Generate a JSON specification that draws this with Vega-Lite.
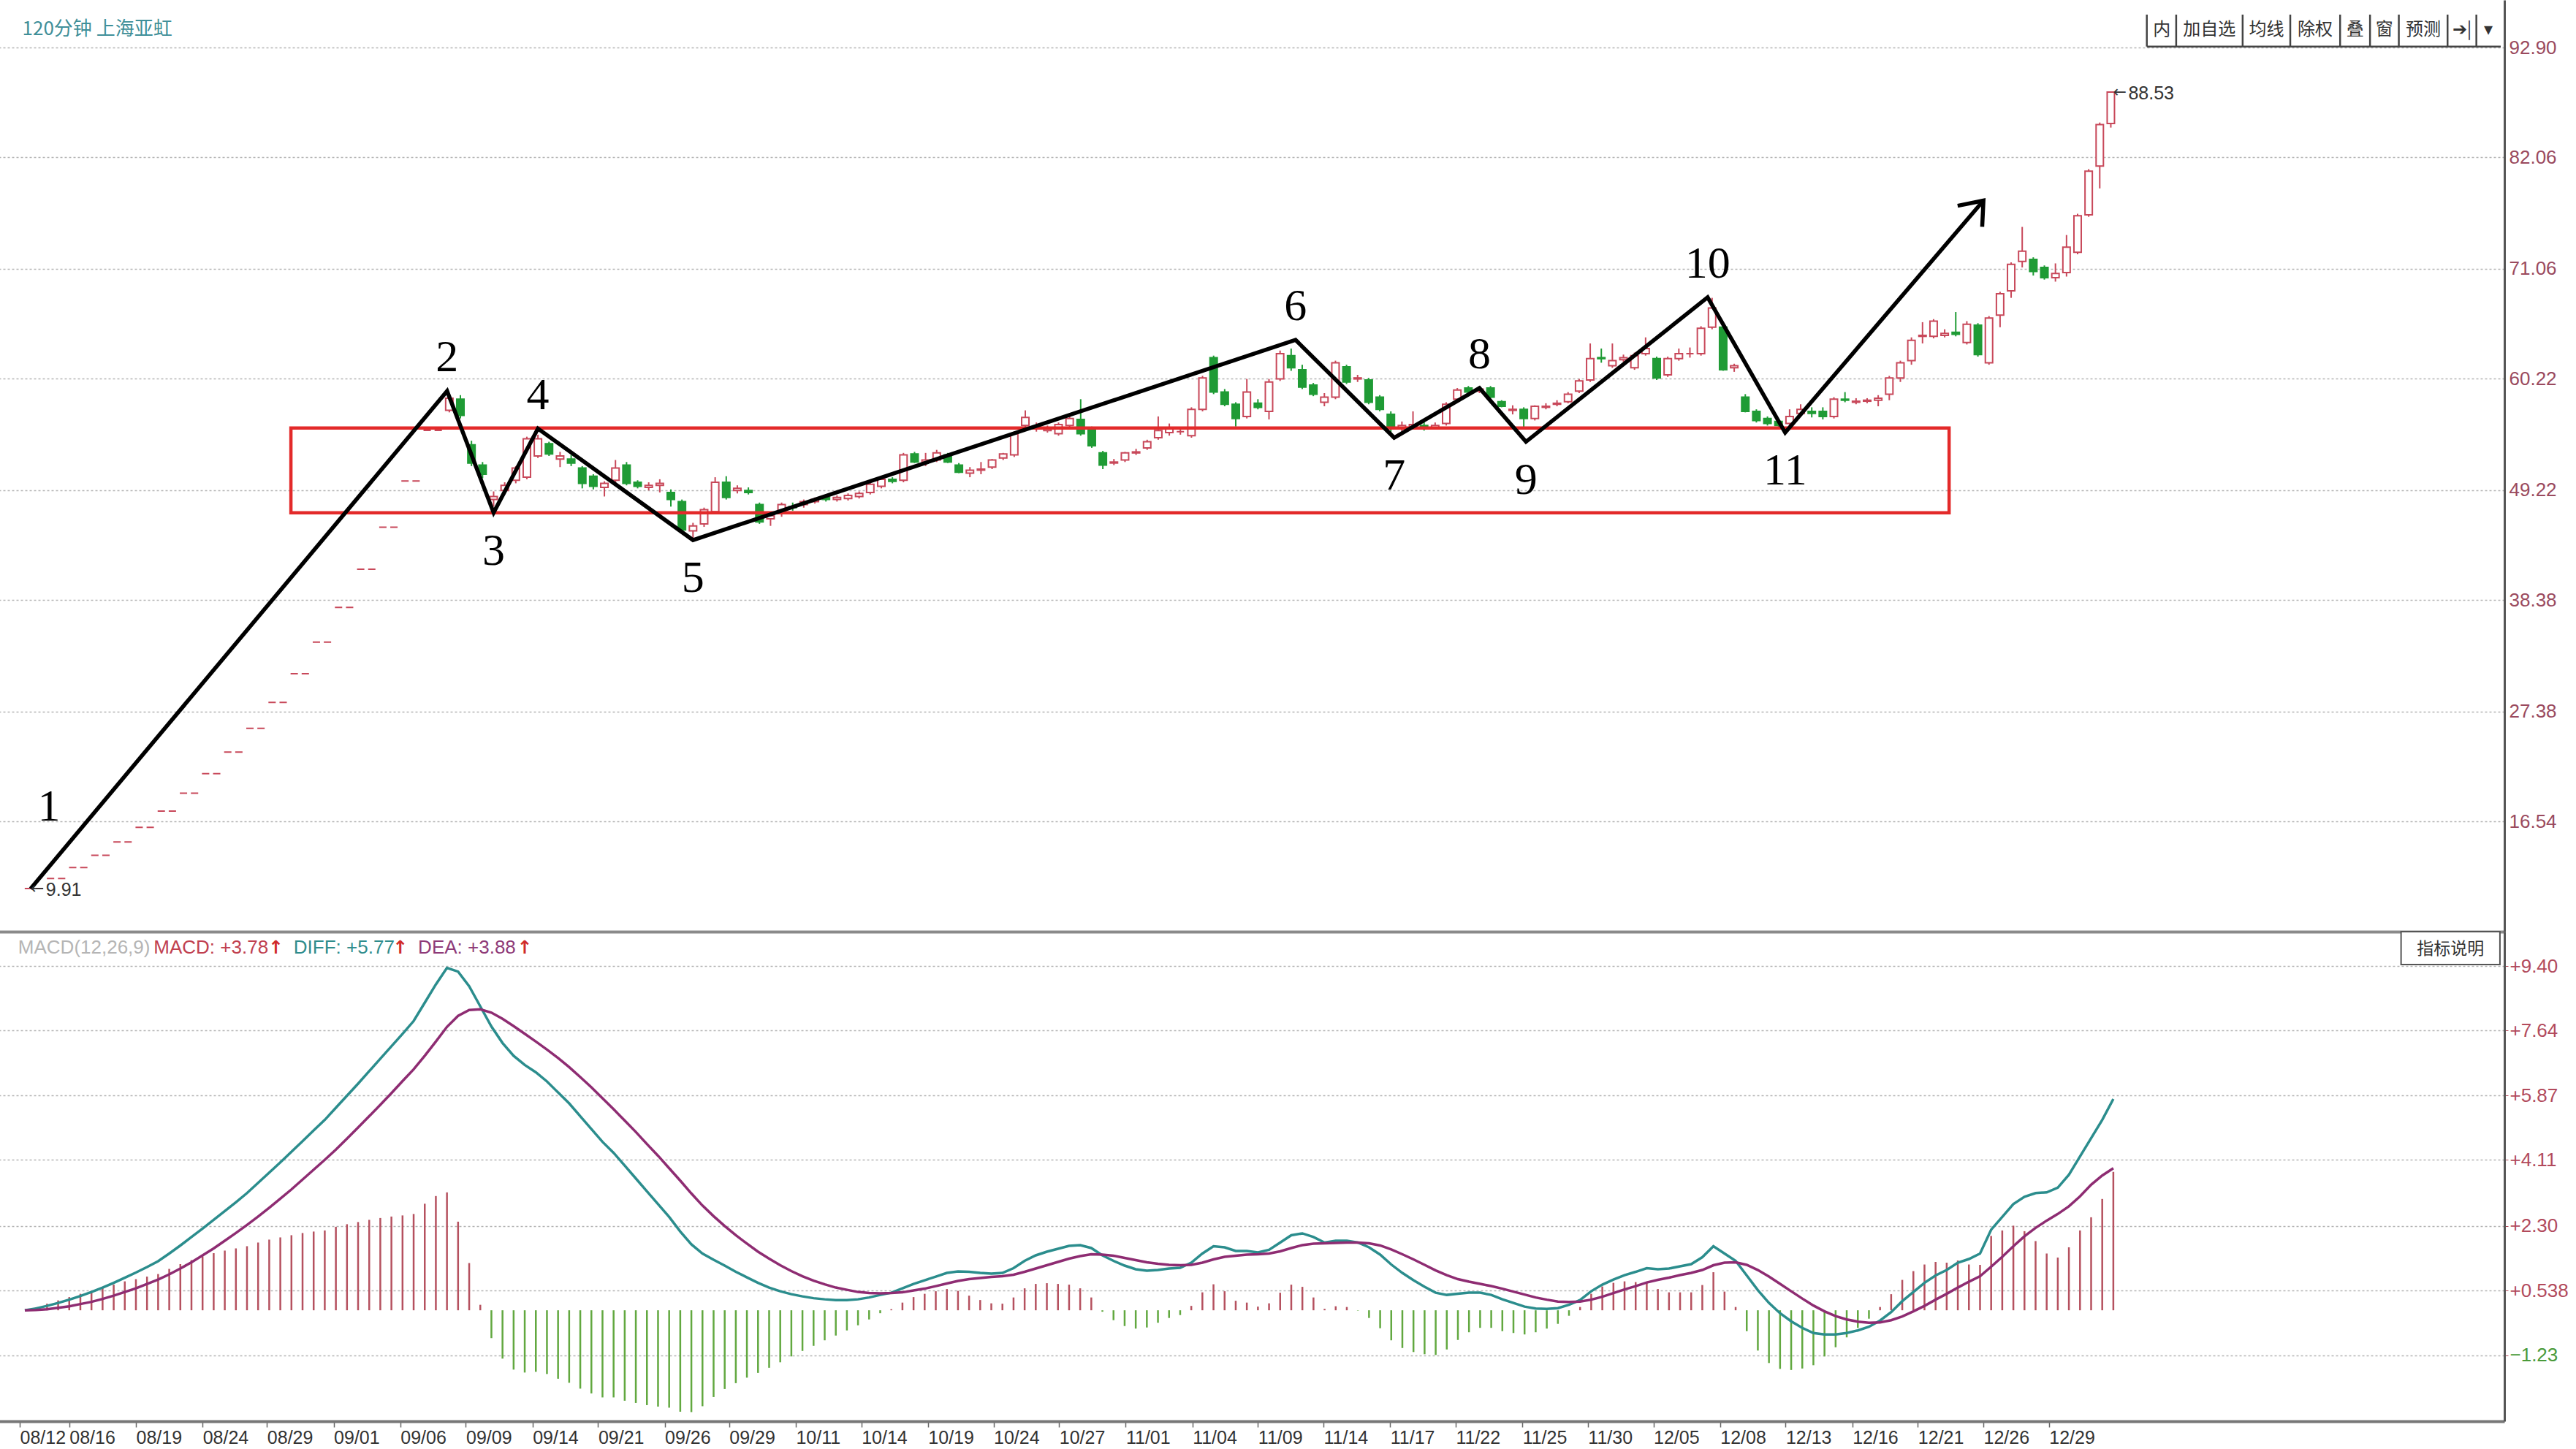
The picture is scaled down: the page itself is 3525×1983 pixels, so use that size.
{
"$schema": "https://vega.github.io/schema/vega-lite/v6.json",
"background": "white",
"padding": {"left": -14, "top": 0, "right": 0, "bottom": 0},
"autosize": {"type": "pad"},
"spacing": 0,
"bounds": "flush",
"config": {"view": {"stroke": null}},
"datasets": {
"k": [
{"i":0,"o":9.91,"h":9.91,"l":9.91,"c":9.91,"dif":0,"dea":0,"m":0},
{"i":1,"o":9.91,"h":9.91,"l":9.91,"c":9.91,"dif":0.05,"dea":0.01,"m":0.08},
{"i":2,"o":10.9,"h":10.9,"l":10.9,"c":10.9,"dif":0.12,"dea":0.03,"m":0.18},
{"i":3,"o":10.9,"h":10.9,"l":10.9,"c":10.9,"dif":0.2,"dea":0.07,"m":0.27},
{"i":4,"o":11.99,"h":11.99,"l":11.99,"c":11.99,"dif":0.29,"dea":0.11,"m":0.36},
{"i":5,"o":11.99,"h":11.99,"l":11.99,"c":11.99,"dif":0.39,"dea":0.17,"m":0.45},
{"i":6,"o":13.19,"h":13.19,"l":13.19,"c":13.19,"dif":0.5,"dea":0.23,"m":0.53},
{"i":7,"o":13.19,"h":13.19,"l":13.19,"c":13.19,"dif":0.62,"dea":0.31,"m":0.62},
{"i":8,"o":14.51,"h":14.51,"l":14.51,"c":14.51,"dif":0.75,"dea":0.4,"m":0.7},
{"i":9,"o":14.51,"h":14.51,"l":14.51,"c":14.51,"dif":0.89,"dea":0.5,"m":0.79},
{"i":10,"o":15.96,"h":15.96,"l":15.96,"c":15.96,"dif":1.03,"dea":0.6,"m":0.85},
{"i":11,"o":15.96,"h":15.96,"l":15.96,"c":15.96,"dif":1.18,"dea":0.72,"m":0.92},
{"i":12,"o":17.56,"h":17.56,"l":17.56,"c":17.56,"dif":1.34,"dea":0.84,"m":0.99},
{"i":13,"o":17.56,"h":17.56,"l":17.56,"c":17.56,"dif":1.55,"dea":0.98,"m":1.13},
{"i":14,"o":19.32,"h":19.32,"l":19.32,"c":19.32,"dif":1.77,"dea":1.14,"m":1.26},
{"i":15,"o":19.32,"h":19.32,"l":19.32,"c":19.32,"dif":2.0,"dea":1.31,"m":1.37},
{"i":16,"o":21.25,"h":21.25,"l":21.25,"c":21.25,"dif":2.23,"dea":1.5,"m":1.47},
{"i":17,"o":21.25,"h":21.25,"l":21.25,"c":21.25,"dif":2.47,"dea":1.69,"m":1.56},
{"i":18,"o":23.38,"h":23.38,"l":23.38,"c":23.38,"dif":2.71,"dea":1.9,"m":1.63},
{"i":19,"o":23.38,"h":23.38,"l":23.38,"c":23.38,"dif":2.95,"dea":2.11,"m":1.69},
{"i":20,"o":25.72,"h":25.72,"l":25.72,"c":25.72,"dif":3.2,"dea":2.33,"m":1.75},
{"i":21,"o":25.72,"h":25.72,"l":25.72,"c":25.72,"dif":3.48,"dea":2.56,"m":1.85},
{"i":22,"o":28.29,"h":28.29,"l":28.29,"c":28.29,"dif":3.76,"dea":2.8,"m":1.93},
{"i":23,"o":28.29,"h":28.29,"l":28.29,"c":28.29,"dif":4.04,"dea":3.05,"m":1.99},
{"i":24,"o":31.12,"h":31.12,"l":31.12,"c":31.12,"dif":4.33,"dea":3.3,"m":2.05},
{"i":25,"o":31.12,"h":31.12,"l":31.12,"c":31.12,"dif":4.62,"dea":3.57,"m":2.11},
{"i":26,"o":34.23,"h":34.23,"l":34.23,"c":34.23,"dif":4.91,"dea":3.84,"m":2.15},
{"i":27,"o":34.23,"h":34.23,"l":34.23,"c":34.23,"dif":5.2,"dea":4.11,"m":2.18},
{"i":28,"o":37.65,"h":37.65,"l":37.65,"c":37.65,"dif":5.53,"dea":4.39,"m":2.28},
{"i":29,"o":37.65,"h":37.65,"l":37.65,"c":37.65,"dif":5.86,"dea":4.69,"m":2.35},
{"i":30,"o":41.42,"h":41.42,"l":41.42,"c":41.42,"dif":6.19,"dea":4.99,"m":2.41},
{"i":31,"o":41.42,"h":41.42,"l":41.42,"c":41.42,"dif":6.53,"dea":5.3,"m":2.47},
{"i":32,"o":45.56,"h":45.56,"l":45.56,"c":45.56,"dif":6.87,"dea":5.61,"m":2.52},
{"i":33,"o":45.56,"h":45.56,"l":45.56,"c":45.56,"dif":7.21,"dea":5.93,"m":2.56},
{"i":34,"o":50.12,"h":50.12,"l":50.12,"c":50.12,"dif":7.55,"dea":6.26,"m":2.59},
{"i":35,"o":50.12,"h":50.12,"l":50.12,"c":50.12,"dif":7.9,"dea":6.58,"m":2.63},
{"i":36,"o":55.13,"h":55.13,"l":55.13,"c":55.13,"dif":8.4,"dea":6.95,"m":2.91},
{"i":37,"o":55.13,"h":55.13,"l":55.13,"c":55.13,"dif":8.9,"dea":7.34,"m":3.12},
{"i":38,"o":57.1,"h":58.6,"l":56.9,"c":58.3,"dif":9.35,"dea":7.74,"m":3.22},
{"i":39,"o":58.2,"h":58.6,"l":56.3,"c":56.6,"dif":9.25,"dea":8.04,"m":2.42},
{"i":40,"o":53.7,"h":54.1,"l":51.6,"c":51.9,"dif":8.85,"dea":8.2,"m":1.29},
{"i":41,"o":51.7,"h":52.0,"l":50.4,"c":50.8,"dif":8.3,"dea":8.22,"m":0.15},
{"i":42,"o":48.3,"h":49.1,"l":47.6,"c":48.6,"dif":7.75,"dea":8.13,"m":-0.76},
{"i":43,"o":49.2,"h":50.0,"l":48.8,"c":49.7,"dif":7.3,"dea":7.96,"m":-1.32},
{"i":44,"o":50.2,"h":51.6,"l":49.9,"c":51.4,"dif":6.95,"dea":7.76,"m":-1.62},
{"i":45,"o":50.5,"h":54.5,"l":50.3,"c":54.3,"dif":6.7,"dea":7.55,"m":-1.7},
{"i":46,"o":52.6,"h":54.7,"l":52.4,"c":54.3,"dif":6.5,"dea":7.34,"m":-1.68},
{"i":47,"o":53.8,"h":54.0,"l":52.6,"c":52.8,"dif":6.25,"dea":7.12,"m":-1.74},
{"i":48,"o":52.3,"h":53.0,"l":51.5,"c":52.6,"dif":5.95,"dea":6.89,"m":-1.87},
{"i":49,"o":52.3,"h":52.7,"l":51.6,"c":51.9,"dif":5.65,"dea":6.64,"m":-1.98},
{"i":50,"o":51.4,"h":51.6,"l":49.4,"c":49.9,"dif":5.3,"dea":6.37,"m":-2.14},
{"i":51,"o":50.6,"h":50.8,"l":49.3,"c":49.6,"dif":4.95,"dea":6.09,"m":-2.27},
{"i":52,"o":49.5,"h":50.1,"l":48.6,"c":49.9,"dif":4.6,"dea":5.79,"m":-2.38},
{"i":53,"o":50.2,"h":52.2,"l":50.0,"c":51.4,"dif":4.3,"dea":5.49,"m":-2.38},
{"i":54,"o":51.7,"h":52.0,"l":49.7,"c":49.9,"dif":3.95,"dea":5.18,"m":-2.47},
{"i":55,"o":50.0,"h":50.2,"l":49.4,"c":49.6,"dif":3.6,"dea":4.87,"m":-2.53},
{"i":56,"o":49.5,"h":50.0,"l":49.2,"c":49.7,"dif":3.25,"dea":4.54,"m":-2.59},
{"i":57,"o":49.7,"h":50.3,"l":49.0,"c":49.9,"dif":2.9,"dea":4.22,"m":-2.63},
{"i":58,"o":49.0,"h":49.3,"l":47.6,"c":48.3,"dif":2.55,"dea":3.88,"m":-2.66},
{"i":59,"o":48.1,"h":48.3,"l":45.1,"c":45.3,"dif":2.15,"dea":3.54,"m":-2.77},
{"i":60,"o":45.2,"h":46.0,"l":44.4,"c":45.7,"dif":1.8,"dea":3.19,"m":-2.78},
{"i":61,"o":45.9,"h":47.5,"l":45.6,"c":47.3,"dif":1.55,"dea":2.86,"m":-2.62},
{"i":62,"o":47.1,"h":50.5,"l":46.9,"c":50.0,"dif":1.38,"dea":2.57,"m":-2.37},
{"i":63,"o":50.0,"h":50.6,"l":48.3,"c":48.5,"dif":1.22,"dea":2.3,"m":-2.15},
{"i":64,"o":49.2,"h":49.7,"l":48.9,"c":49.4,"dif":1.05,"dea":2.05,"m":-1.99},
{"i":65,"o":49.2,"h":49.5,"l":48.8,"c":49.0,"dif":0.9,"dea":1.82,"m":-1.84},
{"i":66,"o":47.8,"h":48.0,"l":45.9,"c":46.1,"dif":0.75,"dea":1.6,"m":-1.71},
{"i":67,"o":46.4,"h":46.9,"l":45.7,"c":46.7,"dif":0.62,"dea":1.41,"m":-1.57},
{"i":68,"o":46.9,"h":48.0,"l":46.6,"c":47.8,"dif":0.52,"dea":1.23,"m":-1.42},
{"i":69,"o":47.6,"h":48.0,"l":47.2,"c":47.5,"dif":0.44,"dea":1.07,"m":-1.26},
{"i":70,"o":47.8,"h":48.3,"l":47.5,"c":48.1,"dif":0.38,"dea":0.93,"m":-1.11},
{"i":71,"o":48.1,"h":48.5,"l":47.9,"c":48.3,"dif":0.33,"dea":0.81,"m":-0.97},
{"i":72,"o":48.5,"h":48.7,"l":48.1,"c":48.3,"dif":0.3,"dea":0.71,"m":-0.82},
{"i":73,"o":48.3,"h":48.7,"l":48.1,"c":48.5,"dif":0.28,"dea":0.62,"m":-0.69},
{"i":74,"o":48.4,"h":48.9,"l":48.2,"c":48.7,"dif":0.28,"dea":0.56,"m":-0.55},
{"i":75,"o":48.6,"h":49.1,"l":48.4,"c":48.9,"dif":0.3,"dea":0.5,"m":-0.41},
{"i":76,"o":49.0,"h":50.0,"l":48.8,"c":49.8,"dif":0.35,"dea":0.47,"m":-0.25},
{"i":77,"o":49.6,"h":50.5,"l":49.4,"c":50.3,"dif":0.42,"dea":0.46,"m":-0.08},
{"i":78,"o":50.3,"h":50.5,"l":49.9,"c":50.1,"dif":0.48,"dea":0.47,"m":0.03},
{"i":79,"o":50.2,"h":52.9,"l":50.0,"c":52.7,"dif":0.6,"dea":0.49,"m":0.21},
{"i":80,"o":52.8,"h":53.0,"l":51.9,"c":52.0,"dif":0.72,"dea":0.54,"m":0.36},
{"i":81,"o":52.0,"h":52.9,"l":51.6,"c":52.2,"dif":0.82,"dea":0.59,"m":0.45},
{"i":82,"o":52.2,"h":53.2,"l":52.0,"c":52.9,"dif":0.92,"dea":0.66,"m":0.52},
{"i":83,"o":52.7,"h":52.9,"l":51.9,"c":52.0,"dif":1.02,"dea":0.73,"m":0.58},
{"i":84,"o":51.7,"h":51.9,"l":50.9,"c":51.0,"dif":1.06,"dea":0.8,"m":0.53},
{"i":85,"o":50.9,"h":51.5,"l":50.5,"c":51.2,"dif":1.05,"dea":0.85,"m":0.4},
{"i":86,"o":51.2,"h":52.0,"l":50.8,"c":51.3,"dif":1.02,"dea":0.88,"m":0.28},
{"i":87,"o":51.5,"h":52.3,"l":51.3,"c":52.2,"dif":1.0,"dea":0.91,"m":0.19},
{"i":88,"o":52.4,"h":52.9,"l":52.2,"c":52.8,"dif":1.02,"dea":0.93,"m":0.18},
{"i":89,"o":52.7,"h":55.0,"l":52.5,"c":54.8,"dif":1.15,"dea":0.97,"m":0.35},
{"i":90,"o":55.6,"h":57.1,"l":55.4,"c":56.4,"dif":1.35,"dea":1.05,"m":0.6},
{"i":91,"o":55.5,"h":55.9,"l":55.0,"c":55.5,"dif":1.5,"dea":1.14,"m":0.72},
{"i":92,"o":55.1,"h":55.6,"l":54.9,"c":55.4,"dif":1.6,"dea":1.23,"m":0.74},
{"i":93,"o":54.8,"h":55.9,"l":54.6,"c":55.7,"dif":1.68,"dea":1.32,"m":0.72},
{"i":94,"o":55.6,"h":56.5,"l":55.4,"c":56.3,"dif":1.76,"dea":1.41,"m":0.7},
{"i":95,"o":56.2,"h":58.2,"l":54.6,"c":54.8,"dif":1.78,"dea":1.48,"m":0.6},
{"i":96,"o":55.3,"h":55.5,"l":53.4,"c":53.6,"dif":1.7,"dea":1.53,"m":0.35},
{"i":97,"o":52.9,"h":53.1,"l":51.3,"c":51.7,"dif":1.5,"dea":1.52,"m":-0.04},
{"i":98,"o":51.9,"h":52.3,"l":51.7,"c":52.0,"dif":1.35,"dea":1.49,"m":-0.27},
{"i":99,"o":52.2,"h":53.0,"l":52.0,"c":52.9,"dif":1.22,"dea":1.43,"m":-0.43},
{"i":100,"o":52.9,"h":53.3,"l":52.7,"c":53.0,"dif":1.12,"dea":1.37,"m":-0.5},
{"i":101,"o":53.4,"h":54.2,"l":53.2,"c":54.0,"dif":1.08,"dea":1.31,"m":-0.47},
{"i":102,"o":54.4,"h":56.5,"l":54.2,"c":55.1,"dif":1.1,"dea":1.27,"m":-0.34},
{"i":103,"o":54.9,"h":55.8,"l":54.6,"c":55.3,"dif":1.14,"dea":1.24,"m":-0.21},
{"i":104,"o":55.0,"h":55.4,"l":54.7,"c":55.0,"dif":1.16,"dea":1.23,"m":-0.13},
{"i":105,"o":54.6,"h":57.4,"l":54.4,"c":57.2,"dif":1.3,"dea":1.24,"m":0.12},
{"i":106,"o":57.2,"h":60.5,"l":57.0,"c":60.3,"dif":1.55,"dea":1.3,"m":0.49},
{"i":107,"o":62.3,"h":62.5,"l":58.7,"c":58.9,"dif":1.75,"dea":1.39,"m":0.71},
{"i":108,"o":58.9,"h":59.2,"l":57.5,"c":57.7,"dif":1.72,"dea":1.46,"m":0.52},
{"i":109,"o":57.7,"h":57.9,"l":55.5,"c":56.3,"dif":1.62,"dea":1.49,"m":0.26},
{"i":110,"o":56.5,"h":60.2,"l":56.3,"c":58.9,"dif":1.62,"dea":1.52,"m":0.21},
{"i":111,"o":57.8,"h":58.2,"l":57.2,"c":57.4,"dif":1.58,"dea":1.53,"m":0.1},
{"i":112,"o":57.0,"h":60.2,"l":56.2,"c":59.9,"dif":1.65,"dea":1.55,"m":0.19},
{"i":113,"o":60.2,"h":63.0,"l":60.0,"c":62.7,"dif":1.85,"dea":1.61,"m":0.48},
{"i":114,"o":62.5,"h":63.2,"l":61.0,"c":61.3,"dif":2.05,"dea":1.7,"m":0.7},
{"i":115,"o":61.1,"h":61.6,"l":59.2,"c":59.4,"dif":2.1,"dea":1.78,"m":0.64},
{"i":116,"o":59.6,"h":59.8,"l":58.5,"c":58.7,"dif":2.0,"dea":1.82,"m":0.35},
{"i":117,"o":57.9,"h":58.8,"l":57.5,"c":58.4,"dif":1.85,"dea":1.83,"m":0.04},
{"i":118,"o":58.4,"h":62.0,"l":58.2,"c":61.8,"dif":1.9,"dea":1.84,"m":0.11},
{"i":119,"o":61.4,"h":61.6,"l":59.7,"c":59.9,"dif":1.9,"dea":1.85,"m":0.09},
{"i":120,"o":60.2,"h":60.6,"l":59.9,"c":60.3,"dif":1.85,"dea":1.85,"m":-0.01},
{"i":121,"o":60.1,"h":60.3,"l":57.7,"c":57.9,"dif":1.72,"dea":1.83,"m":-0.21},
{"i":122,"o":58.4,"h":58.6,"l":57.0,"c":57.2,"dif":1.52,"dea":1.77,"m":-0.49},
{"i":123,"o":56.7,"h":57.0,"l":54.6,"c":55.3,"dif":1.25,"dea":1.66,"m":-0.82},
{"i":124,"o":55.3,"h":56.0,"l":55.0,"c":55.6,"dif":1.02,"dea":1.53,"m":-1.03},
{"i":125,"o":55.5,"h":57.0,"l":55.2,"c":55.7,"dif":0.82,"dea":1.39,"m":-1.14},
{"i":126,"o":55.6,"h":56.0,"l":55.1,"c":55.4,"dif":0.64,"dea":1.24,"m":-1.2},
{"i":127,"o":55.4,"h":55.9,"l":55.2,"c":55.6,"dif":0.48,"dea":1.09,"m":-1.22},
{"i":128,"o":55.8,"h":57.9,"l":55.6,"c":57.7,"dif":0.42,"dea":0.96,"m":-1.07},
{"i":129,"o":58.2,"h":59.3,"l":58.0,"c":59.1,"dif":0.45,"dea":0.85,"m":-0.81},
{"i":130,"o":59.3,"h":59.5,"l":58.7,"c":58.9,"dif":0.48,"dea":0.78,"m":-0.6},
{"i":131,"o":59.0,"h":59.5,"l":58.8,"c":59.2,"dif":0.48,"dea":0.72,"m":-0.48},
{"i":132,"o":59.3,"h":59.5,"l":58.3,"c":58.4,"dif":0.42,"dea":0.66,"m":-0.48},
{"i":133,"o":57.96,"h":58.1,"l":57.4,"c":57.5,"dif":0.3,"dea":0.59,"m":-0.57},
{"i":134,"o":57.1,"h":57.6,"l":56.7,"c":57.2,"dif":0.2,"dea":0.51,"m":-0.62},
{"i":135,"o":57.2,"h":57.4,"l":55.4,"c":56.3,"dif":0.1,"dea":0.43,"m":-0.66},
{"i":136,"o":56.3,"h":57.6,"l":56.1,"c":57.5,"dif":0.05,"dea":0.35,"m":-0.6},
{"i":137,"o":57.4,"h":57.8,"l":57.2,"c":57.5,"dif":0.04,"dea":0.29,"m":-0.5},
{"i":138,"o":57.7,"h":58.1,"l":57.5,"c":57.8,"dif":0.06,"dea":0.24,"m":-0.37},
{"i":139,"o":57.95,"h":58.9,"l":57.8,"c":58.7,"dif":0.15,"dea":0.23,"m":-0.15},
{"i":140,"o":59.0,"h":60.2,"l":58.8,"c":60.0,"dif":0.28,"dea":0.24,"m":0.09},
{"i":141,"o":60.1,"h":63.7,"l":59.9,"c":62.2,"dif":0.52,"dea":0.29,"m":0.45},
{"i":142,"o":62.3,"h":63.2,"l":61.8,"c":62.2,"dif":0.7,"dea":0.37,"m":0.65},
{"i":143,"o":61.5,"h":63.7,"l":61.3,"c":62.0,"dif":0.84,"dea":0.47,"m":0.75},
{"i":144,"o":62.1,"h":62.6,"l":61.9,"c":62.3,"dif":0.96,"dea":0.57,"m":0.79},
{"i":145,"o":61.3,"h":62.8,"l":61.1,"c":62.5,"dif":1.05,"dea":0.66,"m":0.77},
{"i":146,"o":62.7,"h":64.3,"l":62.5,"c":63.2,"dif":1.15,"dea":0.76,"m":0.78},
{"i":147,"o":62.2,"h":62.4,"l":60.1,"c":60.3,"dif":1.12,"dea":0.83,"m":0.58},
{"i":148,"o":60.6,"h":62.4,"l":60.4,"c":62.2,"dif":1.14,"dea":0.89,"m":0.49},
{"i":149,"o":62.2,"h":63.2,"l":62.0,"c":62.7,"dif":1.2,"dea":0.96,"m":0.49},
{"i":150,"o":62.7,"h":63.3,"l":62.3,"c":62.7,"dif":1.26,"dea":1.02,"m":0.49},
{"i":151,"o":62.7,"h":65.4,"l":62.5,"c":65.2,"dif":1.45,"dea":1.1,"m":0.69},
{"i":152,"o":65.3,"h":68.2,"l":65.1,"c":67.2,"dif":1.75,"dea":1.23,"m":1.04},
{"i":153,"o":65.3,"h":65.5,"l":61.0,"c":61.1,"dif":1.55,"dea":1.3,"m":0.51},
{"i":154,"o":61.3,"h":61.7,"l":60.9,"c":61.5,"dif":1.35,"dea":1.31,"m":0.09},
{"i":155,"o":58.4,"h":58.7,"l":56.9,"c":57.0,"dif":0.95,"dea":1.24,"m":-0.57},
{"i":156,"o":57.0,"h":57.2,"l":55.9,"c":56.1,"dif":0.55,"dea":1.1,"m":-1.1},
{"i":157,"o":56.3,"h":56.5,"l":55.6,"c":55.8,"dif":0.2,"dea":0.92,"m":-1.44},
{"i":158,"o":56.0,"h":56.2,"l":55.3,"c":55.6,"dif":-0.08,"dea":0.72,"m":-1.6},
{"i":159,"o":55.8,"h":57.2,"l":55.2,"c":56.5,"dif":-0.3,"dea":0.52,"m":-1.63},
{"i":160,"o":56.8,"h":57.7,"l":56.5,"c":57.2,"dif":-0.48,"dea":0.32,"m":-1.59},
{"i":161,"o":57.0,"h":57.4,"l":56.4,"c":56.8,"dif":-0.62,"dea":0.13,"m":-1.5},
{"i":162,"o":57.0,"h":57.4,"l":56.2,"c":56.5,"dif":-0.66,"dea":-0.03,"m":-1.26},
{"i":163,"o":56.5,"h":58.4,"l":56.3,"c":58.2,"dif":-0.66,"dea":-0.16,"m":-1.01},
{"i":164,"o":58.2,"h":58.9,"l":57.9,"c":58.1,"dif":-0.62,"dea":-0.25,"m":-0.74},
{"i":165,"o":57.9,"h":58.3,"l":57.7,"c":58.0,"dif":-0.55,"dea":-0.31,"m":-0.48},
{"i":166,"o":58.0,"h":58.3,"l":57.8,"c":58.1,"dif":-0.45,"dea":-0.34,"m":-0.23},
{"i":167,"o":58.1,"h":58.6,"l":57.5,"c":58.3,"dif":-0.28,"dea":-0.33,"m":0.09},
{"i":168,"o":58.7,"h":60.5,"l":58.1,"c":60.3,"dif":-0.05,"dea":-0.27,"m":0.44},
{"i":169,"o":60.3,"h":62.0,"l":59.9,"c":61.8,"dif":0.25,"dea":-0.17,"m":0.83},
{"i":170,"o":62.0,"h":64.3,"l":61.6,"c":64.0,"dif":0.5,"dea":-0.03,"m":1.07},
{"i":171,"o":64.4,"h":65.8,"l":63.7,"c":64.5,"dif":0.75,"dea":0.12,"m":1.25},
{"i":172,"o":64.4,"h":66.1,"l":64.2,"c":65.9,"dif":0.95,"dea":0.29,"m":1.32},
{"i":173,"o":64.5,"h":65.1,"l":64.3,"c":64.7,"dif":1.1,"dea":0.45,"m":1.3},
{"i":174,"o":64.8,"h":66.8,"l":64.4,"c":64.6,"dif":1.3,"dea":0.62,"m":1.36},
{"i":175,"o":63.8,"h":65.9,"l":63.6,"c":65.6,"dif":1.4,"dea":0.78,"m":1.25},
{"i":176,"o":65.5,"h":65.7,"l":62.4,"c":62.6,"dif":1.55,"dea":0.93,"m":1.24},
{"i":177,"o":61.8,"h":66.4,"l":61.6,"c":66.2,"dif":2.2,"dea":1.19,"m":2.03},
{"i":178,"o":66.5,"h":68.8,"l":65.3,"c":68.6,"dif":2.55,"dea":1.46,"m":2.18},
{"i":179,"o":68.9,"h":71.7,"l":68.2,"c":71.5,"dif":2.9,"dea":1.75,"m":2.31},
{"i":180,"o":71.8,"h":75.2,"l":71.2,"c":72.8,"dif":3.1,"dea":2.02,"m":2.16},
{"i":181,"o":72.0,"h":72.2,"l":70.4,"c":70.8,"dif":3.2,"dea":2.25,"m":1.89},
{"i":182,"o":71.2,"h":71.4,"l":70.0,"c":70.2,"dif":3.22,"dea":2.45,"m":1.55},
{"i":183,"o":70.2,"h":71.6,"l":69.8,"c":70.6,"dif":3.35,"dea":2.63,"m":1.44},
{"i":184,"o":70.7,"h":74.4,"l":70.3,"c":73.2,"dif":3.7,"dea":2.84,"m":1.72},
{"i":185,"o":72.7,"h":76.5,"l":72.5,"c":76.3,"dif":4.2,"dea":3.11,"m":2.18},
{"i":186,"o":76.4,"h":80.9,"l":76.2,"c":80.7,"dif":4.7,"dea":3.43,"m":2.54},
{"i":187,"o":81.2,"h":85.5,"l":79.0,"c":85.3,"dif":5.2,"dea":3.68,"m":3.04},
{"i":188,"o":85.4,"h":88.53,"l":85.0,"c":88.5,"dif":5.77,"dea":3.88,"m":3.78}
],
"zz": [
{"i":0.2,"v":9.9,"n":"1","p":"s"},
{"i":37.8,"v":59.0,"n":"2","p":"u"},
{"i":42.0,"v":47.0,"n":"3","p":"d"},
{"i":46.0,"v":55.3,"n":"4","p":"u"},
{"i":60.0,"v":44.3,"n":"5","p":"d"},
{"i":114.4,"v":64.05,"n":"6","p":"u"},
{"i":123.3,"v":54.4,"n":"7","p":"d"},
{"i":131.0,"v":59.3,"n":"8","p":"u"},
{"i":135.2,"v":54.0,"n":"9","p":"d"},
{"i":151.6,"v":68.25,"n":"10","p":"u"},
{"i":158.6,"v":54.9,"n":"11","p":"d"},
{"i":176.5,"v":77.8,"n":"","p":"e"}
],
"ah": [{"i":176.5,"v":77.8}],
"box": [{"i":23.7,"i2":173.4,"v":47.0,"v2":55.35}],
"ext": [{"i":0,"v":9.91,"t":"9.91"},{"i":188,"v":88.53,"t":"88.53"}],
"ttl": [{"t":"120分钟  上海亚虹","i":-0.55,"v":94.67}],
"tb": [
{"t":"内","a":191.25,"c":192.6},
{"t":"加自选","a":193.9,"c":196.9},
{"t":"均线","a":199.9,"c":202.05},
{"t":"除权","a":204.2,"c":206.45},
{"t":"叠","a":208.7,"c":210.05},
{"t":"窗","a":211.4,"c":212.7},
{"t":"预测","a":214.0,"c":216.2},
{"t":"➔|","a":218.4,"c":219.7},
{"t":"▾","a":221.0,"c":222.1}
],
"tbl": [{"a":191.25,"b":223.2,"v":93.0}],
"hdr": [
{"t":"MACD(12,26,9)","k":"p","i":-0.6,"v":9.9},
{"t":"MACD: +3.78","k":"m","i":11.6,"v":9.9},
{"t":"DIFF: +5.77","k":"d","i":24.2,"v":9.9},
{"t":"DEA: +3.88","k":"e","i":35.4,"v":9.9},
{"t":"↑","k":"a","i":22.6,"v":9.9},
{"t":"↑","k":"a","i":33.8,"v":9.9},
{"t":"↑","k":"a","i":45.0,"v":9.9}
],
"btn": [{"t":"指标说明","a":213.9,"b":222.8,"c":218.35}]
},
"vconcat": [
{
"width": 3428,
"height": 1275,
"layer": [
{"data":{"name":"k"},"mark":{"type":"rule","strokeWidth":2},
"encoding":{
"x":{"field":"i","type":"quantitative","title":null,"scale":{"domain":[-2.3,223.2],"nice":false,"zero":false},
"axis":{"orient":"bottom","labels":false,"ticks":false,"grid":false,"domain":true,"domainColor":"#8a8a8a","domainWidth":4,"title":null}},
"y":{"field":"l","type":"quantitative","title":null,"scale":{"domain":[5.66,97.59],"nice":false,"zero":false},
"axis":{"orient":"right","values":[16.54,27.38,38.38,49.22,60.22,71.06,82.06,92.9],"format":".2f","grid":true,"gridColor":"#b4b4b4","gridDash":[3,3],"gridWidth":1.5,"ticks":false,"domain":true,"domainColor":"#555555","domainWidth":3,"labelColor":"#9a4a5e","labelFontSize":26,"labelFont":"Liberation Sans","labelPadding":6,"labelOverlap":false,"title":null}},
"y2":{"field":"h"},
"color":{"condition":{"test":"datum.c >= datum.o","value":"#c8485a"},"value":"#1f9b35"}
}},
{"data":{"name":"k"},"mark":{"type":"bar","width":10,"strokeWidth":2},
"encoding":{
"x":{"field":"i","type":"quantitative","title":null,"scale":{"domain":[-2.3,223.2],"nice":false,"zero":false}},
"y":{"field":"o","type":"quantitative","title":null,"scale":{"domain":[5.66,97.59],"nice":false,"zero":false}},
"y2":{"field":"c"},
"fill":{"condition":{"test":"datum.c >= datum.o","value":"#ffffff"},"value":"#1f9b35"},
"stroke":{"condition":{"test":"datum.c >= datum.o","value":"#c8485a"},"value":"#1f9b35"}
}},
{"data":{"name":"box"},"mark":{"type":"rect","fillOpacity":0,"stroke":"#e32a2a","strokeWidth":4.5},
"encoding":{
"x":{"field":"i","type":"quantitative","title":null,"scale":{"domain":[-2.3,223.2],"nice":false,"zero":false}},
"x2":{"field":"i2"},
"y":{"field":"v","type":"quantitative","title":null,"scale":{"domain":[5.66,97.59],"nice":false,"zero":false}},
"y2":{"field":"v2"}
}},
{"data":{"name":"zz"},"mark":{"type":"line","color":"#000000","strokeWidth":5.5,"strokeJoin":"miter","strokeMiterLimit":20},
"encoding":{
"x":{"field":"i","type":"quantitative","title":null,"scale":{"domain":[-2.3,223.2],"nice":false,"zero":false}},
"y":{"field":"v","type":"quantitative","title":null,"scale":{"domain":[5.66,97.59],"nice":false,"zero":false}},
"order":{"field":"i","type":"quantitative"}
}},
{"data":{"name":"ah"},"mark":{"type":"point","shape":"M-0.7,0.9L0,0L0.7,0.9","size":4000,"angle":40.6,"filled":false,"stroke":"#000000","strokeWidth":5.5,"strokeJoin":"miter","opacity":1},
"encoding":{
"x":{"field":"i","type":"quantitative","title":null,"scale":{"domain":[-2.3,223.2],"nice":false,"zero":false}},
"y":{"field":"v","type":"quantitative","title":null,"scale":{"domain":[5.66,97.59],"nice":false,"zero":false}}
}},
{"data":{"name":"zz"},"transform":[{"filter":"datum.p == 'u'"}],"mark":{"type":"text","font":"Liberation Serif","fontSize":62,"dy":-46,"color":"#000000","baseline":"middle"},
"encoding":{
"x":{"field":"i","type":"quantitative","title":null,"scale":{"domain":[-2.3,223.2],"nice":false,"zero":false}},
"y":{"field":"v","type":"quantitative","title":null,"scale":{"domain":[5.66,97.59],"nice":false,"zero":false}},
"text":{"field":"n"}
}},
{"data":{"name":"zz"},"transform":[{"filter":"datum.p == 'd'"}],"mark":{"type":"text","font":"Liberation Serif","fontSize":62,"dy":52,"color":"#000000","baseline":"middle"},
"encoding":{
"x":{"field":"i","type":"quantitative","title":null,"scale":{"domain":[-2.3,223.2],"nice":false,"zero":false}},
"y":{"field":"v","type":"quantitative","title":null,"scale":{"domain":[5.66,97.59],"nice":false,"zero":false}},
"text":{"field":"n"}
}},
{"data":{"name":"zz"},"transform":[{"filter":"datum.p == 's'"}],"mark":{"type":"text","font":"Liberation Serif","fontSize":62,"dx":25,"dy":-112,"color":"#000000","baseline":"middle"},
"encoding":{
"x":{"field":"i","type":"quantitative","title":null,"scale":{"domain":[-2.3,223.2],"nice":false,"zero":false}},
"y":{"field":"v","type":"quantitative","title":null,"scale":{"domain":[5.66,97.59],"nice":false,"zero":false}},
"text":{"field":"n"}
}},
{"data":{"name":"ext"},"mark":{"type":"text","font":"DejaVu Sans","fontSize":22,"align":"left","dx":3,"color":"#333333","baseline":"middle"},
"encoding":{
"x":{"field":"i","type":"quantitative","title":null,"scale":{"domain":[-2.3,223.2],"nice":false,"zero":false}},
"y":{"field":"v","type":"quantitative","title":null,"scale":{"domain":[5.66,97.59],"nice":false,"zero":false}},
"text":{"value":"←"}
}},
{"data":{"name":"ext"},"mark":{"type":"text","font":"Liberation Sans","fontSize":25,"align":"left","dx":24,"dy":2,"color":"#333333","baseline":"middle"},
"encoding":{
"x":{"field":"i","type":"quantitative","title":null,"scale":{"domain":[-2.3,223.2],"nice":false,"zero":false}},
"y":{"field":"v","type":"quantitative","title":null,"scale":{"domain":[5.66,97.59],"nice":false,"zero":false}},
"text":{"field":"t"}
}},
{"data":{"name":"ttl"},"mark":{"type":"text","font":"Noto Sans CJK SC","fontSize":26,"align":"left","color":"#3f8f99","baseline":"middle"},
"encoding":{
"x":{"field":"i","type":"quantitative","title":null,"scale":{"domain":[-2.3,223.2],"nice":false,"zero":false}},
"y":{"field":"v","type":"quantitative","title":null,"scale":{"domain":[5.66,97.59],"nice":false,"zero":false}},
"text":{"field":"t"}
}},
{"data":{"name":"tb"},"mark":{"type":"rule","color":"#444444","strokeWidth":2.5},
"encoding":{
"x":{"field":"a","type":"quantitative","title":null,"scale":{"domain":[-2.3,223.2],"nice":false,"zero":false}},
"y":{"datum":93.0,"type":"quantitative","title":null,"scale":{"domain":[5.66,97.59],"nice":false,"zero":false}},
"y2":{"datum":96.15}
}},
{"data":{"name":"tbl"},"mark":{"type":"rule","color":"#444444","strokeWidth":2.5},
"encoding":{
"x":{"field":"a","type":"quantitative","title":null,"scale":{"domain":[-2.3,223.2],"nice":false,"zero":false}},
"x2":{"field":"b"},
"y":{"field":"v","type":"quantitative","title":null,"scale":{"domain":[5.66,97.59],"nice":false,"zero":false}}
}},
{"data":{"name":"tb"},"mark":{"type":"text","font":"Noto Sans CJK SC","fontSize":24,"color":"#333333","baseline":"middle"},
"encoding":{
"x":{"field":"c","type":"quantitative","title":null,"scale":{"domain":[-2.3,223.2],"nice":false,"zero":false}},
"y":{"datum":94.6,"type":"quantitative","title":null,"scale":{"domain":[5.66,97.59],"nice":false,"zero":false}},
"text":{"field":"t"}
}}
]
},
{
"width": 3428,
"height": 670,
"layer": [
{"data":{"name":"k"},"mark":{"type":"rule","strokeWidth":2.5},
"encoding":{
"x":{"field":"i","type":"quantitative","title":null,"scale":{"domain":[-2.3,223.2],"nice":false,"zero":false},
"axis":{"orient":"bottom","values":[-0.46,4,10,16,21.8,27.8,33.8,39.7,45.7,51.6,57.6,63.4,69.4,75.3,81.3,87.2,93.1,99.1,105.1,111,116.9,122.9,128.8,134.8,140.7,146.6,152.6,158.5,164.5,170.4,176.3,182.2],
"labelExpr":"['08/12','08/16','08/19','08/24','08/29','09/01','09/06','09/09','09/14','09/21','09/26','09/29','10/11','10/14','10/19','10/24','10/27','11/01','11/04','11/09','11/14','11/17','11/22','11/25','11/30','12/05','12/08','12/13','12/16','12/21','12/26','12/29'][indexof([-0.46,4,10,16,21.8,27.8,33.8,39.7,45.7,51.6,57.6,63.4,69.4,75.3,81.3,87.2,93.1,99.1,105.1,111,116.9,122.9,128.8,134.8,140.7,146.6,152.6,158.5,164.5,170.4,176.3,182.2], datum.value)]",
"labelAlign":"left","labelBaseline":"top","labelPadding":2,"tickSize":8,"tickColor":"#666666","tickWidth":1.5,"domainColor":"#777777","domainWidth":4,"labelFontSize":25,"labelColor":"#333333","labelFont":"Liberation Sans","grid":false,"labelOverlap":false,"labelFlush":false,"labelBound":false,"title":null}},
"y":{"field":"m","type":"quantitative","title":null,"scale":{"domain":[-3.03,10.34],"nice":false,"zero":false},
"axis":{"orient":"right","values":[-1.23,0.538,2.3,4.11,5.87,7.64,9.4],
"labelExpr":"(datum.value > 0 ? '+' : '') + (abs(datum.value) < 1 ? format(datum.value, '.3f') : format(datum.value, '.2f'))",
"grid":true,"gridColor":"#b4b4b4","gridDash":[3,3],"gridWidth":1.5,"ticks":true,"tickSize":5,"tickColor":"#b24a5c","domain":true,"domainColor":"#555555","domainWidth":3,
"labelColor":{"condition":{"test":"datum.value < 0","value":"#4a9a3a"},"value":"#b24a5c"},
"labelFontSize":26,"labelFont":"Liberation Sans","labelPadding":2,"labelOverlap":false,"title":null}},
"y2":{"datum":0},
"color":{"condition":{"test":"datum.m >= 0","value":"#b5515f"},"value":"#62a840"}
}},
{"data":{"name":"k"},"mark":{"type":"line","color":"#2b8d8d","strokeWidth":3.5},
"encoding":{
"x":{"field":"i","type":"quantitative","title":null,"scale":{"domain":[-2.3,223.2],"nice":false,"zero":false}},
"y":{"field":"dif","type":"quantitative","title":null,"scale":{"domain":[-3.03,10.34],"nice":false,"zero":false}}
}},
{"data":{"name":"k"},"mark":{"type":"line","color":"#8e2c72","strokeWidth":3.5},
"encoding":{
"x":{"field":"i","type":"quantitative","title":null,"scale":{"domain":[-2.3,223.2],"nice":false,"zero":false}},
"y":{"field":"dea","type":"quantitative","title":null,"scale":{"domain":[-3.03,10.34],"nice":false,"zero":false}}
}},
{"data":{"name":"hdr"},"transform":[{"filter":"datum.k != 'a'"}],"mark":{"type":"text","font":"Liberation Sans","fontSize":26,"align":"left","baseline":"middle"},
"encoding":{
"x":{"field":"i","type":"quantitative","title":null,"scale":{"domain":[-2.3,223.2],"nice":false,"zero":false}},
"y":{"field":"v","type":"quantitative","title":null,"scale":{"domain":[-3.03,10.34],"nice":false,"zero":false}},
"text":{"field":"t"},
"color":{"field":"k","type":"nominal","scale":{"domain":["p","m","d","e","a"],"range":["#b5b5b5","#c0404f","#2f8c8c","#8e3a78","#d02a2a"]},"legend":null}
}},
{"data":{"name":"hdr"},"transform":[{"filter":"datum.k == 'a'"}],"mark":{"type":"text","font":"DejaVu Sans","fontSize":25,"fontWeight":"bold","align":"center","baseline":"middle"},
"encoding":{
"x":{"field":"i","type":"quantitative","title":null,"scale":{"domain":[-2.3,223.2],"nice":false,"zero":false}},
"y":{"field":"v","type":"quantitative","title":null,"scale":{"domain":[-3.03,10.34],"nice":false,"zero":false}},
"text":{"field":"t"},
"color":{"field":"k","type":"nominal","scale":{"domain":["p","m","d","e","a"],"range":["#b5b5b5","#c0404f","#2f8c8c","#8e3a78","#d02a2a"]},"legend":null}
}},
{"data":{"name":"btn"},"mark":{"type":"rect","fill":"#ffffff","stroke":"#555555","strokeWidth":2},
"encoding":{
"x":{"field":"a","type":"quantitative","title":null,"scale":{"domain":[-2.3,223.2],"nice":false,"zero":false}},
"x2":{"field":"b"},
"y":{"datum":9.44,"type":"quantitative","title":null,"scale":{"domain":[-3.03,10.34],"nice":false,"zero":false}},
"y2":{"datum":10.34}
}},
{"data":{"name":"btn"},"mark":{"type":"text","font":"Noto Sans CJK SC","fontSize":23,"color":"#333333","baseline":"middle"},
"encoding":{
"x":{"field":"c","type":"quantitative","title":null,"scale":{"domain":[-2.3,223.2],"nice":false,"zero":false}},
"y":{"datum":9.87,"type":"quantitative","title":null,"scale":{"domain":[-3.03,10.34],"nice":false,"zero":false}},
"text":{"field":"t"}
}}
]
}
]
}
